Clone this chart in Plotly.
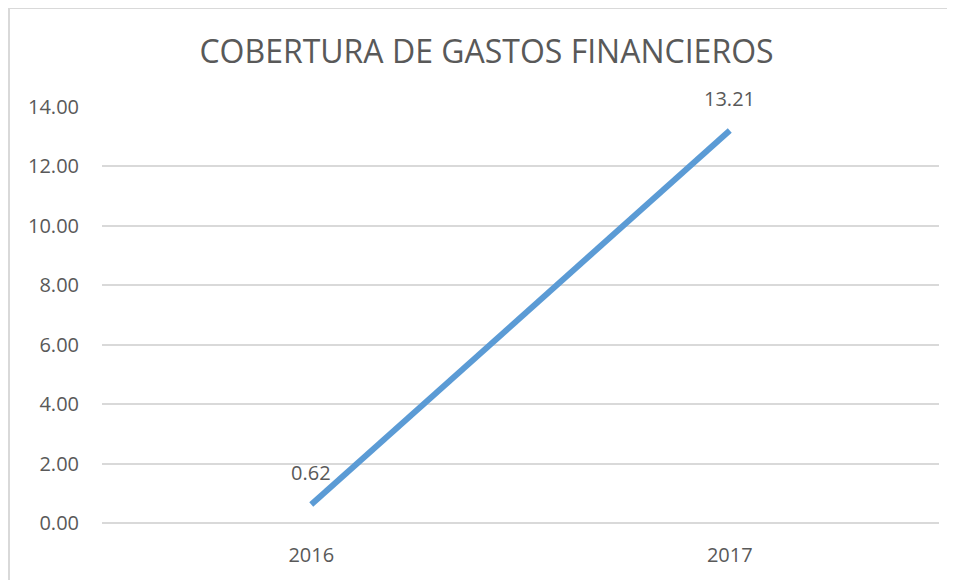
import plotly.graph_objects as go

# data
years = ["2016", "2017"]
cobertura = [0.62, 13.21]
y_ticks = [0, 2, 4, 6, 8, 10, 12, 14]

GRID = "#D9D9D9"
TEXT = "#595959"
FONT = "Open Sans"

# the page body has an 8px margin, so the figure is a bit smaller and shifted
W, H = 947, 572

fig = go.Figure()

fig.add_trace(go.Scatter(
    x=years,
    y=cobertura,
    mode="lines",
    line=dict(color="#5B9BD5", width=6),
    hoverinfo="x+y",
    showlegend=False,
))

# data labels above each point (x given as category index)
annotations = [
    dict(x=i, y=val, xref="x", yref="y", text=f"{val:.2f}",
         showarrow=False, yshift=32, font=dict(family=FONT, size=20, color=TEXT))
    for i, val in enumerate(cobertura)
]

fig.update_layout(
    width=W,
    height=H,
    margin=dict(l=94, r=16, t=99, b=57),
    paper_bgcolor="white",
    plot_bgcolor="white",
    font=dict(family=FONT, color=TEXT),
    title=dict(
        text="COBERTURA DE GASTOS FINANCIEROS",
        x=(486.5 - 8) / W, y=1 - (52 - 8) / H, xref="container", yref="container",
        xanchor="center", yanchor="middle",
        font=dict(family=FONT, size=32, color=TEXT),
    ),
    xaxis=dict(
        type="category",
        range=[-0.5, 1.5],
        showgrid=False,
        showline=False,
        zeroline=False,
        ticks="",
        tickfont=dict(family=FONT, size=20, color=TEXT),
        ticklabelstandoff=18,
    ),
    yaxis=dict(
        range=[0, 14.001],
        tickvals=y_ticks,
        ticktext=[f"{v:.2f}" for v in y_ticks],
        showgrid=True,
        gridcolor=GRID,
        gridwidth=1.5,
        zeroline=True,
        zerolinecolor=GRID,
        zerolinewidth=1.5,
        showline=False,
        ticks="",
        tickfont=dict(family=FONT, size=20, color=TEXT),
        ticklabelstandoff=22,
    ),
    annotations=annotations,
    shapes=[
        # chart border (left and top edges visible in the crop)
        dict(type="line", xref="paper", yref="paper",
             x0=-93 / 837, x1=-93 / 837, y0=515 / 416, y1=-60 / 416,
             line=dict(color=GRID, width=2)),
        dict(type="line", xref="paper", yref="paper",
             x0=-93 / 837, x1=860 / 837, y0=515 / 416, y1=515 / 416,
             line=dict(color=GRID, width=2)),
    ],
)

fig.write_html("out.html")
